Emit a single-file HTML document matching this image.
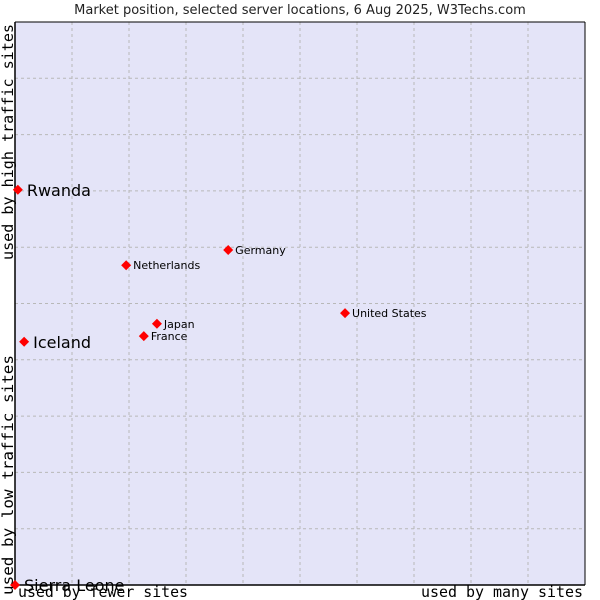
<!DOCTYPE html>
<html><head><meta charset="utf-8"><style>
body{margin:0;background:#fff;width:600px;height:600px;overflow:hidden}
svg{display:block}
</style></head><body>
<svg id="c" width="600" height="600" xmlns="http://www.w3.org/2000/svg">
<text x="300" y="14" text-anchor="middle" font-family="DejaVu Sans, sans-serif" font-size="13" fill="#222">Market position, selected server locations, 6 Aug 2025, W3Techs.com</text>
<rect x="15" y="22" width="570" height="563" fill="#e4e4f8"/>
<g id="grid"></g>
<line x1="15" y1="22" x2="585" y2="22" stroke="#000"/>
<line x1="15" y1="22" x2="15" y2="585" stroke="#000" stroke-width="1.5"/>
<line x1="15" y1="585" x2="585" y2="585" stroke="#000" stroke-width="1.5"/>
<line x1="585" y1="22" x2="585" y2="585" stroke="#000"/>
<g id="pts"></g>
<text x="18" y="597" font-family="DejaVu Sans Mono, monospace" font-size="15" textLength="170" lengthAdjust="spacingAndGlyphs" fill="#000">used by fewer sites</text>
<text x="583" y="597" text-anchor="end" font-family="DejaVu Sans Mono, monospace" font-size="15" textLength="162" lengthAdjust="spacingAndGlyphs" fill="#000">used by many sites</text>
<text transform="translate(13,595) rotate(-90)" font-family="DejaVu Sans Mono, monospace" font-size="15" textLength="240" lengthAdjust="spacingAndGlyphs" fill="#000">used by low traffic sites</text>
<text transform="translate(13,260) rotate(-90)" font-family="DejaVu Sans Mono, monospace" font-size="15" textLength="236" lengthAdjust="spacingAndGlyphs" fill="#000">used by high traffic sites</text>
</svg>
<script>
const names=["Rwanda","Iceland","Sierra Leone","Netherlands","Germany","United States","Japan","France"];
const xVals=[0.5,1.6,0,19.5,37.4,57.9,24.9,22.6];
const yVals=[70.2,43.2,0,56.8,59.5,48.3,46.4,44.2];
const bigLabel=[true,true,true,false,false,false,false,false];
const X0=15,X1=585,Y0=585,Y1=22;
const sx=v=>X0+v/100*(X1-X0);
const sy=v=>Y0-v/100*(Y0-Y1);
const NS="http://www.w3.org/2000/svg";
const grid=document.getElementById('grid');
for(let i=1;i<10;i++){
 const v=document.createElementNS(NS,'line');
 
 
 v.setAttribute('x1',sx(i*10));v.setAttribute('x2',sx(i*10));v.setAttribute('y1',Y1);v.setAttribute('y2',Y0);
 v.setAttribute('stroke','#b8b8b8');v.setAttribute('stroke-dasharray','3,3');grid.appendChild(v);
 const h=document.createElementNS(NS,'line');
 
 
 h.setAttribute('y1',sy(i*10));h.setAttribute('y2',sy(i*10));h.setAttribute('x1',X0);h.setAttribute('x2',X1);
 h.setAttribute('stroke','#b8b8b8');h.setAttribute('stroke-dasharray','3,3');grid.appendChild(h);
}
const pts=document.getElementById('pts');
names.forEach((n,i)=>{
 const x=sx(xVals[i]),y=sy(yVals[i]);
 const d=document.createElementNS(NS,'polygon');
 
 
 d.setAttribute('points',`${x},${y-5} ${x+5},${y} ${x},${y+5} ${x-5},${y}`);
 d.setAttribute('fill','#f00');pts.appendChild(d);
 const t=document.createElementNS(NS,'text');
 
 
 const big=bigLabel[i];
 t.setAttribute('x',x+(big?9:7));t.setAttribute('y',y+(big?6:4));
 t.setAttribute('font-family','DejaVu Sans, sans-serif');
 t.setAttribute('font-size',big?16:11);t.setAttribute('fill','#000');
 t.textContent=n;pts.appendChild(t);
});
</script>
</body></html>
